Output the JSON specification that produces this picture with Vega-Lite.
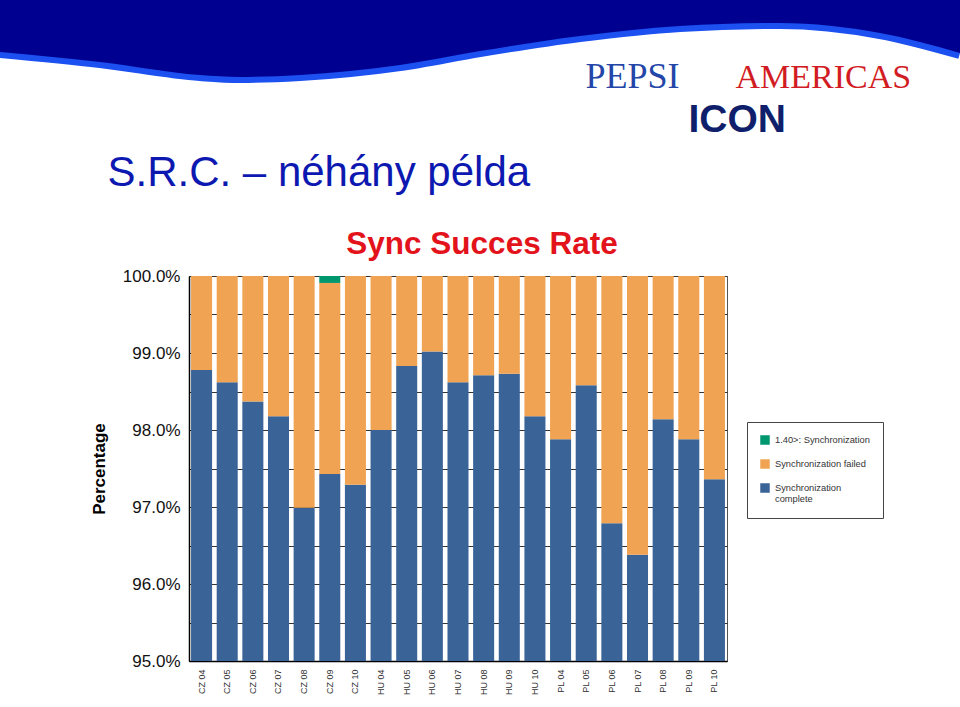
{
  "$schema": "https://vega.github.io/schema/vega-lite/v6.json",
  "padding": 0,
  "background": "white",
  "spacing": 0,
  "config": {"view": {"stroke": null}, "font": "Liberation Sans"},
  "resolve": {"scale": {"color": "independent"}, "legend": {"color": "independent"}},
  "vconcat": [
    {
      "width": 960,
      "height": 228,
      "data": {"values": [
        {"px": 0, "py": 52}, {"px": 100, "py": 62}, {"px": 200, "py": 75}, {"px": 240, "py": 77},
        {"px": 300, "py": 75}, {"px": 400, "py": 65}, {"px": 480, "py": 51}, {"px": 580, "py": 36},
        {"px": 680, "py": 26}, {"px": 780, "py": 23}, {"px": 880, "py": 33}, {"px": 960, "py": 53}
      ]},
      "resolve": {"scale": {"x": "independent", "y": "independent"}},
      "layer": [
        {
          "mark": {"type": "line", "color": "#1c50f0", "strokeWidth": 12, "interpolate": "monotone", "clip": true},
          "encoding": {
            "x": {"field": "px", "type": "quantitative", "scale": {"domain": [0, 960], "nice": false},
              "axis": {"orient": "top", "labels": false, "ticks": false, "domain": false, "grid": false,
                "title": "ICON", "titleX": 688, "titleY": 131, "titleAngle": 0, "titleAlign": "left", "titleBaseline": "alphabetic",
                "titleFont": "Liberation Sans", "titleFontSize": 39, "titleFontWeight": "bold", "titleColor": "#0f1f6b"}},
            "y": {"field": "py", "type": "quantitative", "scale": {"domain": [0, 228], "nice": false, "reverse": true},
              "axis": {"orient": "right", "labels": false, "ticks": false, "domain": false, "grid": false,
                "title": "AMERICAS", "titleX": -225, "titleY": 87, "titleAngle": 0, "titleAlign": "left", "titleBaseline": "alphabetic",
                "titleFont": "Liberation Serif", "titleFontSize": 34, "titleFontWeight": "normal", "titleColor": "#d21c24"}}
          }
        },
        {
          "mark": {"type": "area", "color": "#000090", "interpolate": "monotone", "clip": true},
          "encoding": {
            "x": {"field": "px", "type": "quantitative", "scale": {"domain": [0, 960], "nice": false},
              "axis": {"orient": "bottom", "labels": false, "ticks": false, "domain": false, "grid": false,
                "title": "S.R.C. – néhány példa", "titleX": 107, "titleY": -43, "titleAngle": 0, "titleAlign": "left", "titleBaseline": "alphabetic",
                "titleFont": "Liberation Sans", "titleFontSize": 42, "titleFontWeight": "normal", "titleColor": "#0c18b0"}},
            "y": {"field": "py", "type": "quantitative", "scale": {"domain": [0, 228], "nice": false, "reverse": true},
              "axis": {"orient": "left", "labels": false, "ticks": false, "domain": false, "grid": false,
                "title": "PEPSI", "titleX": 585, "titleY": 87, "titleAngle": 0, "titleAlign": "left", "titleBaseline": "alphabetic",
                "titleFont": "Liberation Serif", "titleFontSize": 36, "titleFontWeight": "normal", "titleColor": "#2346a8"}},
            "y2": {"datum": 0}
          }
        }
      ]
    },
    {
      "spacing": 0,
      "resolve": {"scale": {"color": "independent"}, "legend": {"color": "independent"}},
      "hconcat": [
        {
          "width": 89,
          "height": 10,
          "data": {"values": []},
          "mark": "point",
          "encoding": {}
        },
        {
          "width": 538,
          "height": 385,
          "view": {"stroke": "#555", "strokeWidth": 1},
          "title": {"text": "Sync Succes Rate", "color": "#e3131b", "fontSize": 31.5, "font": "Liberation Sans", "fontWeight": "bold", "anchor": "middle", "offset": 7, "dx": 24},
          "data": {"values": [
            {"period": "CZ 04", "status": "Synchronization complete", "value": 0.9878},
            {"period": "CZ 04", "status": "Synchronization failed", "value": 0.0122},
            {"period": "CZ 05", "status": "Synchronization complete", "value": 0.9862},
            {"period": "CZ 05", "status": "Synchronization failed", "value": 0.0138},
            {"period": "CZ 06", "status": "Synchronization complete", "value": 0.9837},
            {"period": "CZ 06", "status": "Synchronization failed", "value": 0.0163},
            {"period": "CZ 07", "status": "Synchronization complete", "value": 0.9818},
            {"period": "CZ 07", "status": "Synchronization failed", "value": 0.0182},
            {"period": "CZ 08", "status": "Synchronization complete", "value": 0.9699},
            {"period": "CZ 08", "status": "Synchronization failed", "value": 0.0301},
            {"period": "CZ 09", "status": "Synchronization complete", "value": 0.9743},
            {"period": "CZ 09", "status": "Synchronization failed", "value": 0.0248},
            {"period": "CZ 09", "status": "1.40>: Synchronization", "value": 0.0009},
            {"period": "CZ 10", "status": "Synchronization complete", "value": 0.9729},
            {"period": "CZ 10", "status": "Synchronization failed", "value": 0.0271},
            {"period": "HU 04", "status": "Synchronization complete", "value": 0.9800},
            {"period": "HU 04", "status": "Synchronization failed", "value": 0.0200},
            {"period": "HU 05", "status": "Synchronization complete", "value": 0.9883},
            {"period": "HU 05", "status": "Synchronization failed", "value": 0.0117},
            {"period": "HU 06", "status": "Synchronization complete", "value": 0.9902},
            {"period": "HU 06", "status": "Synchronization failed", "value": 0.0098},
            {"period": "HU 07", "status": "Synchronization complete", "value": 0.9862},
            {"period": "HU 07", "status": "Synchronization failed", "value": 0.0138},
            {"period": "HU 08", "status": "Synchronization complete", "value": 0.9871},
            {"period": "HU 08", "status": "Synchronization failed", "value": 0.0129},
            {"period": "HU 09", "status": "Synchronization complete", "value": 0.9873},
            {"period": "HU 09", "status": "Synchronization failed", "value": 0.0127},
            {"period": "HU 10", "status": "Synchronization complete", "value": 0.9818},
            {"period": "HU 10", "status": "Synchronization failed", "value": 0.0182},
            {"period": "PL 04", "status": "Synchronization complete", "value": 0.9788},
            {"period": "PL 04", "status": "Synchronization failed", "value": 0.0212},
            {"period": "PL 05", "status": "Synchronization complete", "value": 0.9858},
            {"period": "PL 05", "status": "Synchronization failed", "value": 0.0142},
            {"period": "PL 06", "status": "Synchronization complete", "value": 0.9679},
            {"period": "PL 06", "status": "Synchronization failed", "value": 0.0321},
            {"period": "PL 07", "status": "Synchronization complete", "value": 0.9638},
            {"period": "PL 07", "status": "Synchronization failed", "value": 0.0362},
            {"period": "PL 08", "status": "Synchronization complete", "value": 0.9814},
            {"period": "PL 08", "status": "Synchronization failed", "value": 0.0186},
            {"period": "PL 09", "status": "Synchronization complete", "value": 0.9788},
            {"period": "PL 09", "status": "Synchronization failed", "value": 0.0212},
            {"period": "PL 10", "status": "Synchronization complete", "value": 0.9736},
            {"period": "PL 10", "status": "Synchronization failed", "value": 0.0264}
          ]},
          "transform": [
            {"calculate": "indexof(['Synchronization complete', 'Synchronization failed', '1.40>: Synchronization'], datum.status)", "as": "stackOrder"}
          ],
          "mark": {"type": "bar", "clip": true},
          "encoding": {
            "x": {"field": "period", "type": "nominal", "sort": null,
              "scale": {"paddingInner": 0.18, "paddingOuter": 0.08},
              "axis": {"title": null, "labelAngle": -90, "labelFontSize": 9, "labelColor": "#333", "ticks": false,
                "domainColor": "#000", "domainWidth": 1.5, "labelPadding": 8}},
            "y": {"field": "value", "type": "quantitative", "stack": "zero",
              "scale": {"domain": [0.95, 1], "nice": false, "zero": false},
              "axis": {"title": "Percentage", "format": ".1%",
                "values": [0.95, 0.955, 0.96, 0.965, 0.97, 0.975, 0.98, 0.985, 0.99, 0.995, 1.0],
                "labelExpr": "round(datum.value * 200) % 2 == 0 ? datum.label : ''",
                "labelOverlap": false, "grid": true, "gridColor": "#333", "gridWidth": 1, "ticks": false,
                "domainColor": "#000", "domainWidth": 1.5, "labelFontSize": 17, "labelColor": "#111",
                "labelPadding": 9, "titleFontSize": 17, "titleFontWeight": "bold", "titlePadding": 14, "titleColor": "#000"}},
            "order": {"field": "stackOrder", "type": "quantitative", "sort": "ascending"},
            "color": {"field": "status", "type": "nominal",
              "sort": ["1.40>: Synchronization", "Synchronization failed", "Synchronization complete"],
              "scale": {"domain": ["1.40>: Synchronization", "Synchronization failed", "Synchronization complete"],
                "range": ["#00966e", "#f0a352", "#3a6398"]},
              "legend": {"orient": "none", "legendX": 558, "legendY": 146, "title": null, "symbolType": "square",
                "symbolSize": 90, "symbolStrokeWidth": 0, "labelFontSize": 9.3, "labelFont": "Liberation Sans", "labelColor": "#333",
                "padding": 13, "strokeColor": "#444", "fillColor": "white", "rowPadding": 13, "labelLimit": 200, "labelOffset": 5,
                "labelExpr": "datum.label == 'Synchronization complete' ? ['Synchronization', 'complete'] : datum.label"}}
          }
        }
      ]
    }
  ]
}
